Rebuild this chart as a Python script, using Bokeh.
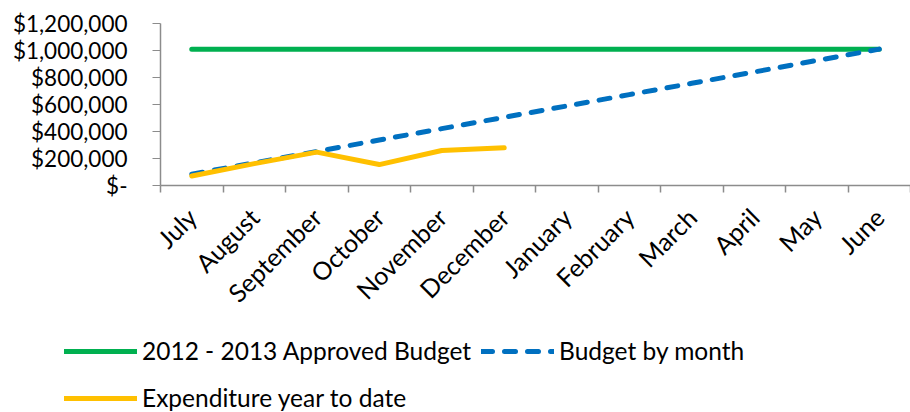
from math import pi
from bokeh.plotting import figure
from bokeh.models import (Range1d, FixedTicker, LinearAxis, NumeralTickFormatter,
                          Legend, LegendItem, ColumnDataSource)
from bokeh.embed import file_html
from bokeh.resources import INLINE

months = ["July", "August", "September", "October", "November", "December",
          "January", "February", "March", "April", "May", "June"]
approved_budget = [1010000] * 12
budget_by_month = [84000, 168000, 252000, 337000, 421000, 505000,
                   589000, 673000, 757000, 841000, 926000, 1010000]
expenditure_ytd = [70000, 162000, 247000, 155000, 259000, 279000]
y_ticks = [0, 200000, 400000, 600000, 800000, 1000000, 1200000]
series_names = ["2012 - 2013 Approved Budget", "Budget by month", "Expenditure year to date"]

FONT = "Lato"
YFS = "22.5px"
XFS = "25px"
LFS = "24.5px"
GRID = "#8c8c8c"
GREEN, BLUE, YELLOW = "#00B050", "#0070C0", "#FFC000"

xpos = [i + 0.5 for i in range(len(months))]

p = figure(frame_width=750, frame_height=162, output_backend="svg", toolbar_location=None,
           x_range=Range1d(0, len(months)), y_range=Range1d(0, 1200000),
           x_axis_type=None, y_axis_type=None,
           min_border_left=160, min_border_right=0, min_border_top=23,
           min_border_bottom=133)
p.outline_line_color = None

yaxis = LinearAxis(ticker=FixedTicker(ticks=y_ticks, minor_ticks=[]),
                   formatter=NumeralTickFormatter(format="$0,0"))
yaxis.major_label_overrides = {0: "$-"}
yaxis.major_tick_out = 8
yaxis.major_tick_in = 0
yaxis.major_tick_line_color = GRID
yaxis.axis_line_color = GRID
yaxis.axis_line_width = 1.5
yaxis.major_label_standoff = 25
yaxis.major_label_text_font = FONT
yaxis.major_label_text_font_size = YFS
yaxis.major_label_text_color = "black"
p.add_layout(yaxis, "left")

xaxis = LinearAxis(ticker=FixedTicker(ticks=xpos, minor_ticks=list(range(len(months) + 1))))
xaxis.major_label_overrides = {x: m for x, m in zip(xpos, months)}
xaxis.major_tick_out = 0
xaxis.major_tick_in = 0
xaxis.major_tick_line_color = None
xaxis.minor_tick_out = 7
xaxis.minor_tick_in = 0
xaxis.minor_tick_line_color = GRID
xaxis.minor_tick_line_width = 1.5
xaxis.axis_line_color = GRID
xaxis.axis_line_width = 1.5
xaxis.major_label_orientation = pi / 4
xaxis.major_label_standoff = 20
xaxis.major_label_text_font = FONT
xaxis.major_label_text_font_size = XFS
xaxis.major_label_text_color = "black"
p.add_layout(xaxis, "below")

p.ygrid.ticker = FixedTicker(ticks=y_ticks)
p.ygrid.grid_line_color = GRID
p.ygrid.grid_line_width = 1.5
p.xgrid.visible = False

src_b = ColumnDataSource(dict(x=xpos, a=approved_budget, m=budget_by_month))
src_e = ColumnDataSource(dict(x=xpos[:len(expenditure_ytd)], e=expenditure_ytd))

p.line("x", "a", source=src_b, line_color=GREEN, line_width=5, line_cap="round")
p.line("x", "m", source=src_b, line_color=BLUE, line_width=5,
       line_dash="11 12", line_cap="round")
p.line("x", "e", source=src_e, line_color=YELLOW, line_width=5,
       line_cap="round", line_join="round")

# legend panel below the chart (separate root so its frame starts at the left edge)
leg = figure(width=910, height=94, output_backend="svg", toolbar_location=None,
             x_range=Range1d(0, 1), y_range=Range1d(0, 1),
             x_axis_type=None, y_axis_type=None,
             min_border_left=0, min_border_right=0, min_border_top=0, min_border_bottom=0)
leg.outline_line_color = None
leg.xgrid.visible = False
leg.ygrid.visible = False
nan = float("nan")
placeholder = ColumnDataSource(dict(x=[nan], y=[nan]))
g1 = leg.line("x", "y", source=placeholder, line_color=GREEN, line_width=5, line_cap="round")
g2 = leg.line("x", "y", source=placeholder, line_color=BLUE, line_width=5,
              line_dash="11 12", line_cap="round")
g3 = leg.line("x", "y", source=placeholder, line_color=YELLOW, line_width=5, line_cap="round")

legend = Legend(items=[
    LegendItem(label=series_names[0], renderers=[g1]),
    LegendItem(label=series_names[1], renderers=[g2]),
    LegendItem(label=series_names[2], renderers=[g3]),
], ncols=2, orientation="horizontal", location=(64, -1))
legend.label_text_font = FONT
legend.label_text_font_size = LFS
legend.label_text_color = "black"
legend.glyph_width = 73
legend.glyph_height = 20
legend.label_standoff = 5
legend.label_height = 37
legend.spacing = 10
legend.padding = 0
legend.margin = 0
legend.border_line_color = None
legend.background_fill_alpha = 0
leg.add_layout(legend, "center")

open("out.html", "w").write(file_html([p, leg], INLINE))
